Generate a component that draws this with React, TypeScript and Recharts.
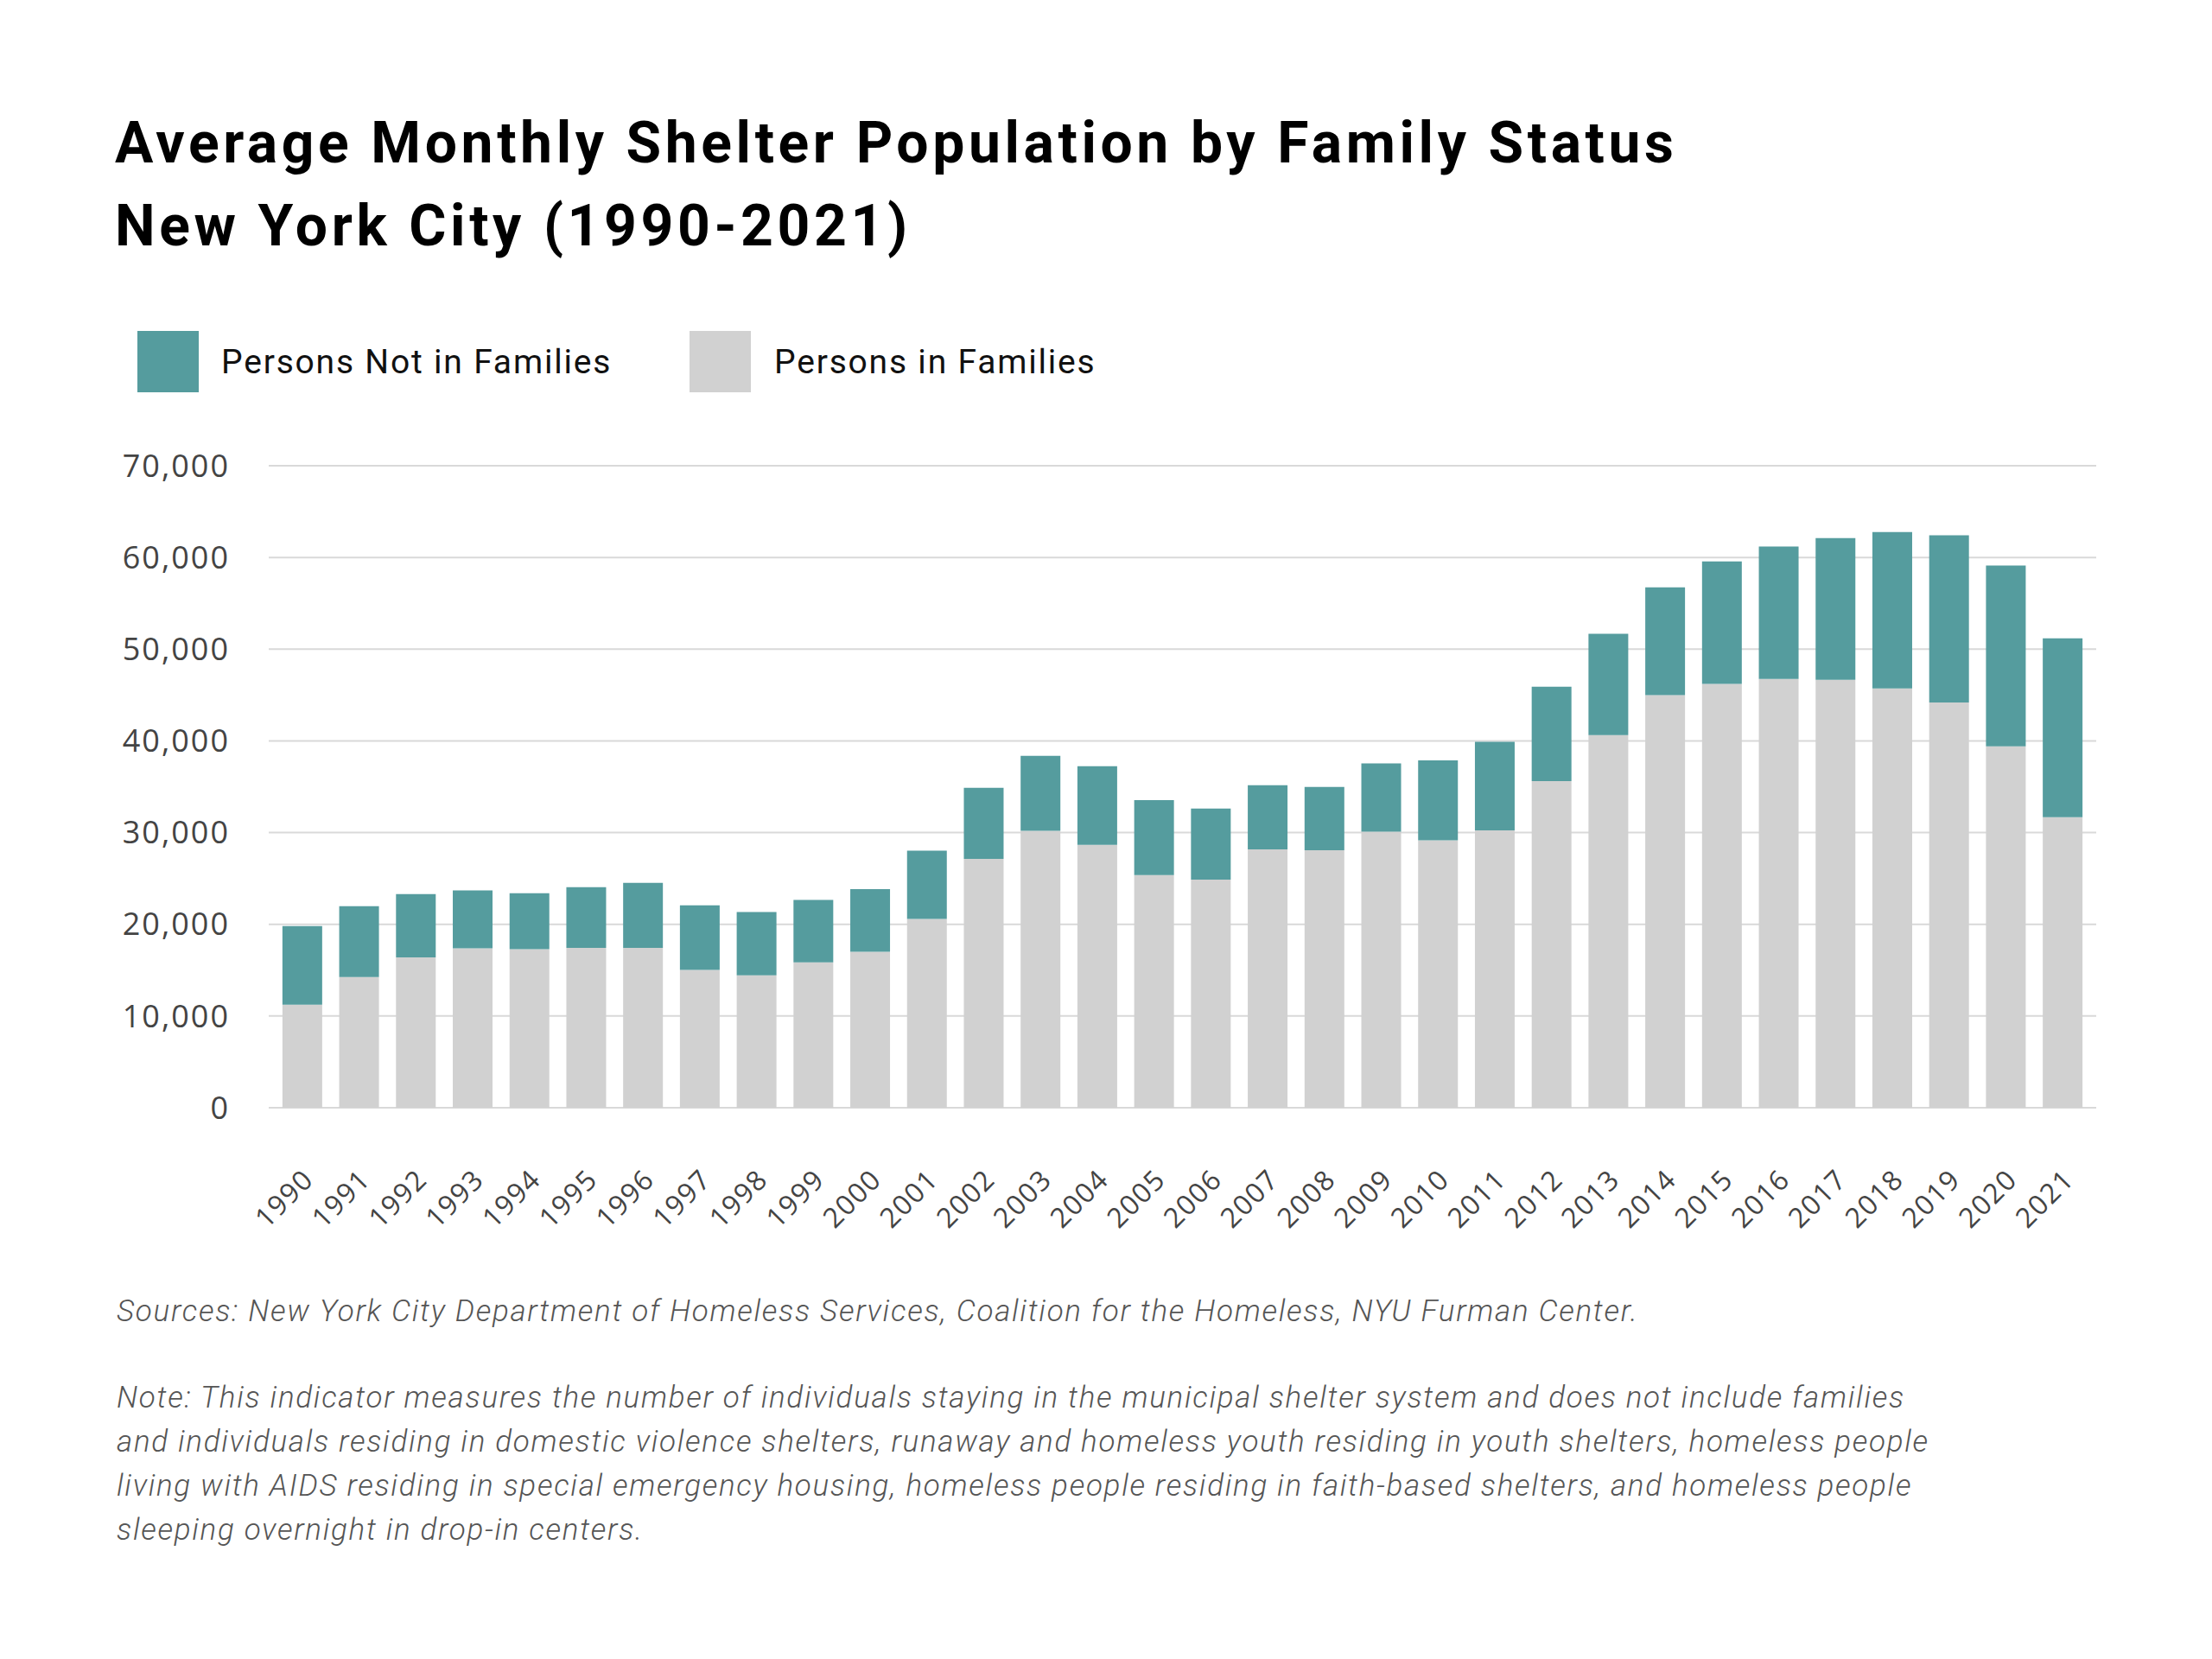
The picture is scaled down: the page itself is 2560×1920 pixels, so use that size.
import { BarChart, Bar, XAxis, YAxis, CartesianGrid } from 'recharts'

const years = [
  '1990', '1991', '1992', '1993', '1994', '1995', '1996', '1997',
  '1998', '1999', '2000', '2001', '2002', '2003', '2004', '2005',
  '2006', '2007', '2008', '2009', '2010', '2011', '2012', '2013',
  '2014', '2015', '2016', '2017', '2018', '2019', '2020', '2021',
]

// persons in families (grey, bottom of each stack)
const inFamilies = [
  11230, 14240, 16400, 17390, 17290, 17440, 17440, 15020,
  14430, 15860, 17000, 20590, 27140, 30200, 28670, 25370,
  24880, 28180, 28080, 30100, 29160, 30250, 35620, 40640,
  44980, 46210, 46750, 46650, 45710, 44190, 39410, 31670,
]

// persons not in families (teal, top of each stack)
const notInFamilies = [
  8570, 7730, 6900, 6310, 6110, 6600, 7090, 7050,
  6900, 6800, 6840, 7440, 7740, 8170, 8570, 8180,
  7730, 6990, 6900, 7440, 8720, 9650, 10290, 11030,
  11770, 13350, 14430, 15470, 17050, 18220, 19700, 19510,
]

const yTicks = [0, 10000, 20000, 30000, 40000, 50000, 60000, 70000]

const noteLines = [
  'Note: This indicator measures the number of individuals staying in the municipal shelter system and does not include families',
  'and individuals residing in domestic violence shelters, runaway and homeless youth residing in youth shelters, homeless people',
  'living with AIDS residing in special emergency housing, homeless people residing in faith-based shelters, and homeless people',
  'sleeping overnight in drop-in centers.',
]

const TEAL = '#559c9e'
const GREY = '#d1d1d1'

const data = years.map((year, i) => ({
  year,
  families: inFamilies[i],
  notFamilies: notInFamilies[i],
}))

const YearTick = (props: any) => {
  const { x, y, payload } = props
  const tx = x + 15
  const ty = y + 85
  return (
    <text
      x={tx}
      y={ty}
      textAnchor="end"
      fill="#444"
      fontSize={32}
      fontFamily="'Open Sans', sans-serif"
      letterSpacing={1.5}
      transform={`rotate(-45 ${tx} ${ty})`}
    >
      {payload.value}
    </text>
  )
}

const App = () => {
  const font = "Roboto, 'Open Sans', sans-serif"
  const footStyle = {
    position: 'absolute' as const,
    left: 135,
    fontSize: 35,
    lineHeight: '51px',
    fontStyle: 'italic',
    fontWeight: 300,
    letterSpacing: 1.7,
    color: '#555',
    whiteSpace: 'nowrap' as const,
  }
  const legendText = {
    position: 'absolute' as const,
    top: 400,
    fontSize: 39,
    lineHeight: '39px',
    letterSpacing: 1.8,
    color: '#111',
    whiteSpace: 'nowrap' as const,
  }
  return (
    <div
      style={{
        position: 'absolute',
        left: 0,
        top: 0,
        width: 2560,
        height: 1920,
        background: '#fff',
        fontFamily: font,
      }}
    >
      <div
        style={{
          position: 'absolute',
          left: 133,
          top: 118,
          fontSize: 66,
          lineHeight: '96px',
          fontWeight: 700,
          letterSpacing: 4.6,
          color: '#000',
          whiteSpace: 'nowrap',
        }}
      >
        <div>Average Monthly Shelter Population by Family Status</div>
        <div>New York City (1990-2021)</div>
      </div>

      <div style={{ position: 'absolute', left: 159, top: 383, width: 71, height: 71, background: TEAL }} />
      <div style={{ ...legendText, left: 256 }}>Persons Not in Families</div>
      <div style={{ position: 'absolute', left: 798, top: 383, width: 71, height: 71, background: GREY }} />
      <div style={{ ...legendText, left: 896 }}>Persons in Families</div>

      <div style={{ position: 'absolute', left: 0, top: 500 }}>
        <BarChart
          width={2560}
          height={1000}
          data={data}
          margin={{ top: 39, right: 134, left: 0, bottom: 68 }}
          barCategoryGap="15%"
        >
          <CartesianGrid vertical={false} stroke="#d9d9d9" strokeWidth={2} />
          <XAxis
            dataKey="year"
            axisLine={false}
            tickLine={false}
            tickSize={0}
            tickMargin={0}
            interval={0}
            height={150}
            padding={{ left: 6, right: 6 }}
            tick={<YearTick />}
          />
          <YAxis
            width={311}
            domain={[0, 70000]}
            ticks={yTicks}
            axisLine={false}
            tickLine={false}
            tickSize={0}
            tickMargin={45}
            tickFormatter={(v: number) => v.toLocaleString('en-US')}
            tick={{
              fill: '#444',
              fontSize: 36,
              fontFamily: "'Open Sans', sans-serif",
              letterSpacing: 2,
            }}
          />
          <Bar dataKey="families" stackId="a" fill={GREY} isAnimationActive={false} />
          <Bar dataKey="notFamilies" stackId="a" fill={TEAL} isAnimationActive={false} />
        </BarChart>
      </div>

      <div style={{ ...footStyle, top: 1492 }}>
        Sources: New York City Department of Homeless Services, Coalition for the Homeless, NYU Furman Center.
      </div>
      <div style={{ ...footStyle, top: 1592 }}>
        {noteLines.map((line) => (
          <div key={line}>{line}</div>
        ))}
      </div>
    </div>
  )
}

export default App
